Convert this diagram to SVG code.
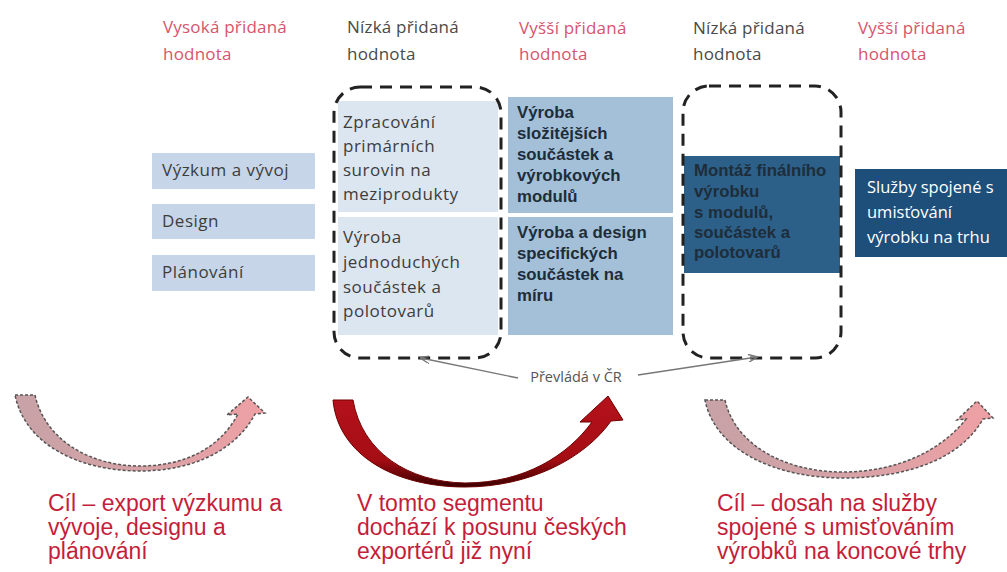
<svg xmlns="http://www.w3.org/2000/svg" width="1007" height="572" viewBox="0 0 1007 572">
<style>
.hdr{font-family:"Open Sans",Lato,sans-serif;font-size:17px;letter-spacing:0.2px}
.pink{fill:#d6546d}
.gray{fill:#4a4a4a}
.cal{font-family:"Open Sans",Lato,sans-serif;font-size:17px;letter-spacing:0.5px;fill:#3d3d3d}
.bold{font-family:"Liberation Sans",Arial,sans-serif;font-size:16.8px;font-weight:bold;fill:#1e2d3a}
.white{font-family:"Open Sans",Lato,sans-serif;font-size:16.5px;fill:#ffffff}
.big{font-family:"Liberation Sans",Arial,sans-serif;font-size:23px;fill:#c41e3a}
.dash{fill:none;stroke:#222;stroke-width:3;stroke-dasharray:12 8}
.pinkarrow{stroke:#555;stroke-width:1.5;stroke-dasharray:3 2}
.conn{stroke:#777;stroke-width:1.4;fill:none}
</style>
<defs>
<marker id="ah" markerWidth="10" markerHeight="8" refX="9" refY="4" orient="auto" markerUnits="userSpaceOnUse">
<path d="M0,0 L10,4 L0,8" fill="none" stroke="#777" stroke-width="1.3"/>
</marker>
<linearGradient id="pg" x1="0" y1="0" x2="1" y2="0">
<stop offset="0" stop-color="#c7a2a6"/>
<stop offset="0.5" stop-color="#d6a3a7"/>
<stop offset="1" stop-color="#efa0a4"/>
</linearGradient>
<linearGradient id="rg" x1="0" y1="0" x2="0" y2="1">
<stop offset="0" stop-color="#b5121b"/>
<stop offset="0.7" stop-color="#a50d14"/>
<stop offset="1" stop-color="#3a0000"/>
</linearGradient>
</defs>
<rect width="1007" height="572" fill="#ffffff"/>

<g id="headers">
<text class="hdr pink" x="163" y="33">Vysoká přidaná</text>
<text class="hdr pink" x="163" y="60">hodnota</text>
<text class="hdr gray" x="347" y="33">Nízká přidaná</text>
<text class="hdr gray" x="347" y="60">hodnota</text>
<text class="hdr pink" x="519" y="34">Vyšší přidaná</text>
<text class="hdr pink" x="519" y="60">hodnota</text>
<text class="hdr gray" x="693" y="34">Nízká přidaná</text>
<text class="hdr gray" x="693" y="60">hodnota</text>
<text class="hdr pink" x="858" y="34">Vyšší přidaná</text>
<text class="hdr pink" x="858" y="60">hodnota</text>
</g>

<g id="node-vyzkum">
<rect x="152" y="153" width="163" height="36" fill="#c6d6e8"/>
<text class="cal" x="162" y="176">Výzkum a vývoj</text>
</g>
<g id="node-design">
<rect x="152" y="204" width="163" height="35" fill="#c6d6e8"/>
<text class="cal" x="162" y="227">Design</text>
</g>
<g id="node-planovani">
<rect x="152" y="255" width="163" height="36" fill="#c6d6e8"/>
<text class="cal" x="162" y="278">Plánování</text>
</g>

<g id="node-zpracovani">
<rect x="338" y="101" width="160" height="111" fill="#dce6f0"/>
<text class="cal" x="343" y="128">Zpracování</text>
<text class="cal" x="343" y="152">primárních</text>
<text class="cal" x="343" y="176">surovin na</text>
<text class="cal" x="343" y="200">meziprodukty</text>
</g>
<g id="node-jednoduche">
<rect x="338" y="217" width="160" height="118" fill="#dce6f0"/>
<text class="cal" x="343" y="243">Výroba</text>
<text class="cal" x="343" y="268">jednoduchých</text>
<text class="cal" x="343" y="293">součástek a</text>
<text class="cal" x="343" y="317">polotovarů</text>
</g>

<g id="node-slozitejsi">
<rect x="508" y="97" width="165" height="116" fill="#a3c0d8"/>
<text class="bold" x="517" y="118">Výroba</text>
<text class="bold" x="517" y="139">složitějších</text>
<text class="bold" x="517" y="160">součástek a</text>
<text class="bold" x="517" y="181">výrobkových</text>
<text class="bold" x="517" y="202">modulů</text>
</g>
<g id="node-specificke">
<rect x="508" y="217" width="165" height="118" fill="#a3c0d8"/>
<text class="bold" x="517" y="238">Výroba a design</text>
<text class="bold" x="517" y="259">specifických</text>
<text class="bold" x="517" y="280">součástek na</text>
<text class="bold" x="517" y="301">míru</text>
</g>

<g id="node-montaz">
<rect x="684" y="156" width="156" height="117" fill="#2c6089"/>
<text class="bold" x="694" y="176">Montáž finálního</text>
<text class="bold" x="694" y="197">výrobku</text>
<text class="bold" x="694" y="218">s modulů,</text>
<text class="bold" x="694" y="238">součástek a</text>
<text class="bold" x="694" y="258">polotovarů</text>
</g>

<g id="node-sluzby">
<rect x="855" y="169" width="152" height="88" fill="#1d4f7a"/>
<text class="white" x="867" y="193">Služby spojené s</text>
<text class="white" x="867" y="218">umisťování</text>
<text class="white" x="867" y="243">výrobku na trhu</text>
</g>

<g id="group-low1">
<rect class="dash" x="334" y="87" width="167" height="271" rx="26"/>
</g>
<g id="group-low2">
<rect class="dash" x="683" y="86" width="158" height="272" rx="26"/>
</g>

<g id="node-prevlada">
<text x="576" y="382" text-anchor="middle" font-family="'Open Sans',Lato,sans-serif" font-size="14.5" fill="#555">Převládá v ČR</text>
</g>

<g id="connectors">
<line class="conn" x1="518" y1="378" x2="421" y2="358" marker-end="url(#ah)"/>
<line class="conn" x1="638" y1="375" x2="757" y2="357" marker-end="url(#ah)"/>
</g>

<g id="arrow-left">
<path class="pinkarrow" fill="url(#pg)" d="M15,395 L35,395 C45,440 90,466 140,466 C185,466 220,448 238,414 L227,415 L248,397 L265,413 L255,414 C235,452 190,471 140,471 C80,471 25,445 15,395 Z"/>
</g>
<g id="arrow-middle">
<path fill="url(#rg)" stroke="#6e0000" stroke-width="1" d="M333,400 L353,400 C362,452 408,482 465,483 C525,483 568,455 592,422 L580,422 L608,396 L623,420 L611,421 C585,458 530,487 465,487 C395,487 338,455 333,400 Z"/>
</g>
<g id="arrow-right">
<path class="pinkarrow" fill="url(#pg)" d="M705,400 L725,400 C735,445 785,472 843,472 C895,472 940,452 966,419 L957,420 L977,401 L993,418 L983,419 C960,460 905,478 843,478 C775,478 715,450 705,400 Z"/>
</g>

<g id="text-left">
<text class="big" x="48" y="511">Cíl – export výzkumu  a</text>
<text class="big" x="48" y="535">vývoje, designu a</text>
<text class="big" x="48" y="559">plánování</text>
</g>
<g id="text-middle">
<text class="big" x="357" y="511">V tomto segmentu</text>
<text class="big" x="357" y="535">dochází k posunu českých</text>
<text class="big" x="357" y="559">exportérů již nyní</text>
</g>
<g id="text-right">
<text class="big" x="717" y="511">Cíl – dosah na služby</text>
<text class="big" x="717" y="535">spojené s umisťováním</text>
<text class="big" x="717" y="559">výrobků na koncové trhy</text>
</g>
</svg>
